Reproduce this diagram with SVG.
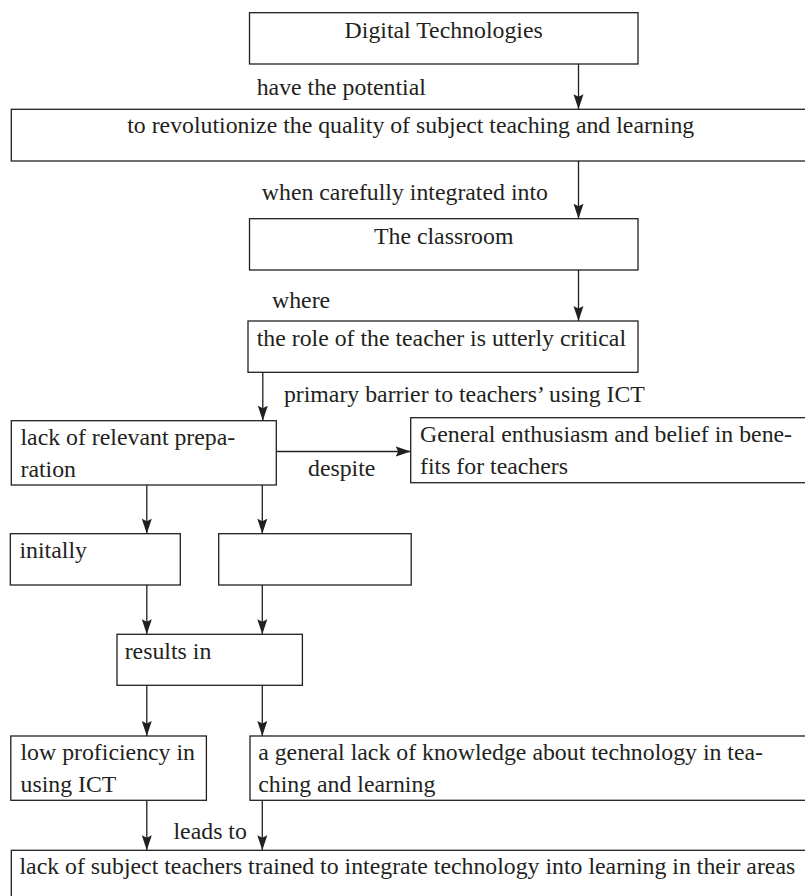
<svg xmlns="http://www.w3.org/2000/svg" width="805" height="896" viewBox="0 0 805 896">
<style>
.box{fill:#fff;stroke:#231f20;stroke-width:1.3}
.con{fill:none;stroke:#231f20;stroke-width:1.3}
text{font-family:"Liberation Serif","Times New Roman",serif;font-size:23.8px;fill:#231f20}
.c{text-anchor:middle}
</style>
<defs>
<marker id="ah" markerWidth="16" markerHeight="12" refX="15" refY="6" orient="auto" markerUnits="userSpaceOnUse">
<path d="M0,1 L15,6 L0,11 L2.5,6 z" fill="#231f20"/>
</marker>
</defs>
<rect width="805" height="896" fill="#fff"/>
<g id="connectors">
<line class="con" x1="578.5" y1="64" x2="578.5" y2="109.3" marker-end="url(#ah)"/>
<line class="con" x1="578.5" y1="161" x2="578.5" y2="218.7" marker-end="url(#ah)"/>
<line class="con" x1="578.5" y1="270" x2="578.5" y2="321" marker-end="url(#ah)"/>
<line class="con" x1="262.8" y1="372.3" x2="262.8" y2="420.7" marker-end="url(#ah)"/>
<line class="con" x1="276.3" y1="451.5" x2="410.7" y2="451.5" marker-end="url(#ah)"/>
<line class="con" x1="146.8" y1="485" x2="146.8" y2="533.7" marker-end="url(#ah)"/>
<line class="con" x1="262.3" y1="485" x2="262.3" y2="533.7" marker-end="url(#ah)"/>
<line class="con" x1="146.8" y1="585" x2="146.8" y2="634.3" marker-end="url(#ah)"/>
<line class="con" x1="262.3" y1="585" x2="262.3" y2="634.3" marker-end="url(#ah)"/>
<line class="con" x1="146.8" y1="685.3" x2="146.8" y2="736" marker-end="url(#ah)"/>
<line class="con" x1="262.3" y1="685.3" x2="262.3" y2="736" marker-end="url(#ah)"/>
<line class="con" x1="146.8" y1="800.3" x2="146.8" y2="850.3" marker-end="url(#ah)"/>
<line class="con" x1="262.3" y1="800.3" x2="262.3" y2="850.3" marker-end="url(#ah)"/>
<text x="256.7" y="94.5">have the potential</text>
<text x="261.8" y="200">when carefully integrated into</text>
<text x="272" y="308">where</text>
<text x="283.9" y="401.7">primary barrier to teachers’ using ICT</text>
<text x="308" y="475.5">despite</text>
<text x="173.5" y="838.7">leads to</text>
</g>
<g id="n1"><rect class="box" x="249.5" y="12.7" width="388.5" height="51.3"/><text class="c" x="443.7" y="38.3">Digital Technologies</text></g>
<g id="n2"><rect class="box" x="11.3" y="109.3" width="800" height="51.7"/><text class="c" x="410.7" y="133">to revolutionize the quality of subject teaching and learning</text></g>
<g id="n3"><rect class="box" x="249.5" y="218.7" width="388.5" height="51.3"/><text class="c" x="443.7" y="243.5">The classroom</text></g>
<g id="n4"><rect class="box" x="248" y="321" width="390" height="51.3"/><text x="256.7" y="346">the role of the teacher is utterly critical</text></g>
<g id="n5"><rect class="box" x="11.3" y="420.7" width="265" height="64.3"/><text x="20.5" y="445">lack of relevant prepa-</text><text x="20.5" y="476.7">ration</text></g>
<g id="n6"><rect class="box" x="410.7" y="417.7" width="400" height="65"/><text x="420" y="442.3">General enthusiasm and belief in bene-</text><text x="420" y="474">fits for teachers</text></g>
<g id="n7"><rect class="box" x="10.3" y="533.7" width="170" height="51.3"/><text x="19.5" y="558.3">initally</text></g>
<g id="n8"><rect class="box" x="218.7" y="533.7" width="192.5" height="51.3"/></g>
<g id="n9"><rect class="box" x="117" y="634.3" width="185.4" height="51"/><text x="124.7" y="658.7">results in</text></g>
<g id="n10"><rect class="box" x="10.8" y="736" width="195.6" height="64.3"/><text x="20.5" y="760.3">low proficiency in</text><text x="20.5" y="792">using ICT</text></g>
<g id="n11"><rect class="box" x="250" y="736" width="560" height="64.3"/><text x="258.2" y="760.3">a general lack of knowledge about technology in tea-</text><text x="258.2" y="792">ching and learning</text></g>
<g id="n12"><rect class="box" x="11.3" y="850.3" width="800" height="60"/><text x="19.5" y="873.5">lack of subject teachers trained to integrate technology into learning in their areas</text></g>
</svg>
